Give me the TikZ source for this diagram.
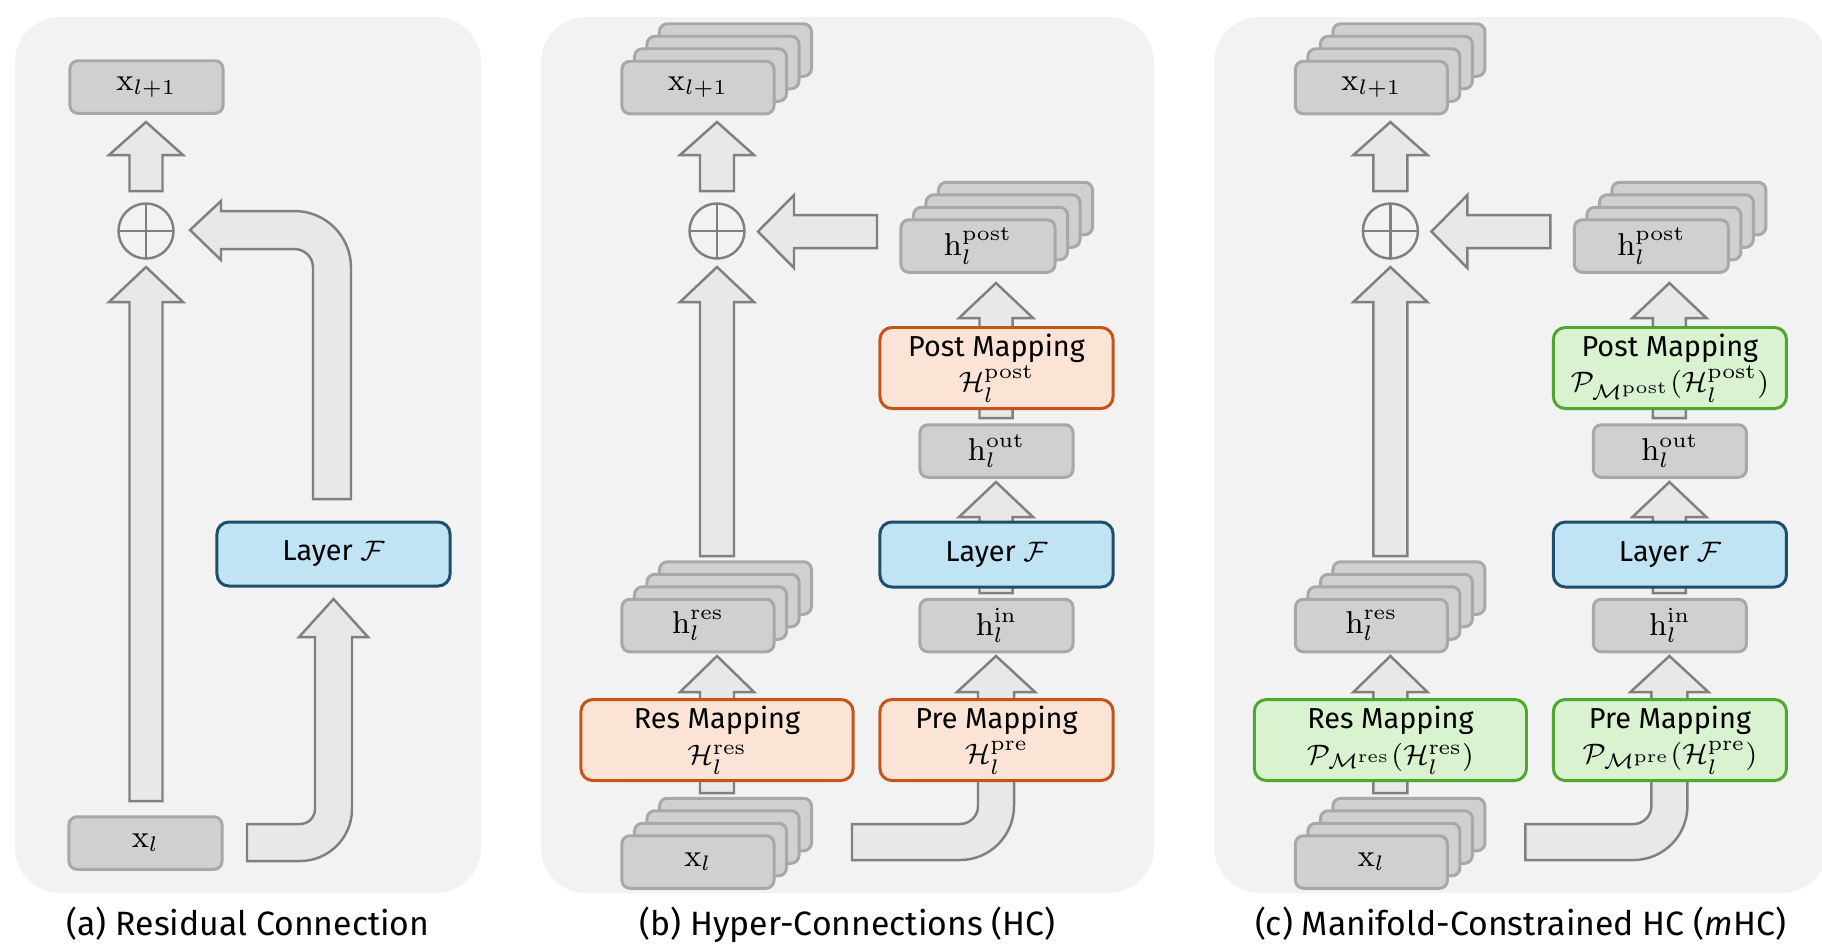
\documentclass[tikz,border=0pt]{standalone}
\usepackage[no-math]{fontspec}
\setmainfont{Fira Sans}
\usetikzlibrary{calc}
\definecolor{bgc}{HTML}{F2F2F2}
\definecolor{boxf}{HTML}{D0D0D0}
\definecolor{boxd}{HTML}{A8A8A8}
\definecolor{arrf}{HTML}{E8E8E8}
\definecolor{arrd}{HTML}{808080}
\definecolor{layf}{HTML}{C1E4F4}
\definecolor{layd}{HTML}{1D4E6B}
\definecolor{orf}{HTML}{FBE3D6}
\definecolor{ord}{HTML}{C65418}
\definecolor{grf}{HTML}{D9F2D0}
\definecolor{grd}{HTML}{4EA72E}
\tikzset{
  graybox/.style={draw=boxd, fill=boxf, line width=0.85pt, rounded corners=0.08cm, inner sep=0pt, minimum height=0.525cm, font=\fontsize{8.6}{10}\selectfont},
  blockarrow/.style={draw=arrd, fill=arrf, line width=0.7pt, line join=miter},
  layerbox/.style={draw=layd, fill=layf, line width=0.85pt, rounded corners=0.12cm, minimum width=2.33cm, minimum height=0.65cm, inner sep=0pt},
  mapbox/.style={line width=0.85pt, rounded corners=0.12cm, minimum height=0.81cm, inner sep=0pt, align=center, font=\fontsize{8.2}{10.2}\selectfont},
  orbox/.style={mapbox, draw=ord, fill=orf},
  grbox/.style={mapbox, draw=grd, fill=grf},
  plusnode/.style={circle, draw=arrd, line width=0.7pt, minimum size=0.55cm, inner sep=0pt,
    path picture={\draw[arrd, line width=0.7pt] (path picture bounding box.north) -- (path picture bounding box.south) (path picture bounding box.west) -- (path picture bounding box.east);}},
  panel/.style={fill=bgc, rounded corners=0.45cm},
  captionnode/.style={anchor=base, font=\fontsize{9.6}{11.5}\selectfont},
}
% vertical block arrow: cx, ybottom, ytip, shaft half width, head half width, head length
\newcommand\vup[6]{\draw[blockarrow] ({#1-#4},#2) -- ({#1-#4},{#3+#6}) -- ({#1-#5},{#3+#6}) -- (#1,#3) -- ({#1+#5},{#3+#6}) -- ({#1+#4},{#3+#6}) -- ({#1+#4},#2) -- cycle;}
% stack of four boxes: name, cx, cy, width, label
\newcommand\boxstack[5]{%
  \foreach \k in {3,2,1}{\node[graybox, minimum width=#4] (#1-\k) at ({#2+12.5*\k},{#3-12.5*\k}) {};}
  \node[graybox, minimum width=#4] (#1) at (#2,#3) {#5};}
% hyper-connection panel: prefix, mapping style, res label, pre label, post label
\newcommand\hcpanel[5]{%
  \fill[panel] (541,17) rectangle (1154,893);
  \vup{717}{191}{122}{17}{37}{33}
  \vup{717}{556}{267}{17}{37}{35}
  \draw[blockarrow] (877,215) -- (794,215) -- (794,195) -- (758,231.5) -- (794,268) -- (794,248) -- (877,248) -- cycle;
  \vup{996}{418}{283}{16.5}{37}{35}
  \vup{996}{593}{482}{16.5}{37}{35}
  \vup{717}{793}{656}{17}{37}{36}
  \draw[blockarrow] (852,824) -- (960,824) .. controls (969.9,824) and (978,815.9) .. (978,806) -- (978,692) -- (957,692) -- (996,656) -- (1035,692) -- (1014,692) -- (1014,806) .. controls (1014,835.8) and (989.8,860) .. (960,860) -- (852,860) -- cycle;
  \boxstack{#1xo}{698}{87.5}{1.52cm}{$\mathrm{x}_{l+1}$}
  \node[plusnode] (#1plus) at (717,231) {};
  \boxstack{#1hpost}{978}{246}{1.54cm}{$\mathrm{h}_l^{\mathrm{post}}$}
  \node[#2, minimum width=2.33cm] (#1post) at (996.5,368) {Post Mapping\\#5};
  \node[graybox, minimum width=1.53cm] (#1hout) at (996.5,451) {$\mathrm{h}_l^{\mathrm{out}}$};
  \node[layerbox] (#1layer) at (996.5,554.5) {Layer $\mathcal{F}$};
  \node[graybox, minimum width=1.53cm] (#1hin) at (996.5,625.5) {$\mathrm{h}_l^{\mathrm{in}}$};
  \node[#2, minimum width=2.33cm] (#1pre) at (996.5,740) {Pre Mapping\\#4};
  \node[#2, minimum width=2.72cm] (#1res) at (717,740) {Res Mapping\\#3};
  \boxstack{#1hres}{698}{625.5}{1.52cm}{$\mathrm{h}_l^{\mathrm{res}}$}
  \boxstack{#1xi}{698}{862}{1.52cm}{$\mathrm{x}_l$}
}
\begin{document}
\begin{tikzpicture}[x=0.01cm, y=-0.01cm, font=\fontsize{8.2}{9.8}\selectfont]
\useasboundingbox (0,0) rectangle (1822,950);
\clip (0,0) rectangle (1822,950);
% ---------- (a) residual connection ----------
\fill[panel] (15,17) rectangle (481,893);
\vup{146}{191}{122}{16.5}{37}{33}
\vup{146}{801}{267}{16.5}{37}{35}
\draw[blockarrow] (313,499) -- (313,267.5) .. controls (313,257.3) and (304.7,249) .. (294.5,249) -- (221,249) -- (221,260) -- (190,230) -- (221,201) -- (221,211) -- (294.5,211) .. controls (325.7,211) and (351,236.3) .. (351,267.5) -- (351,499) -- cycle;
\draw[blockarrow] (247,824) -- (300,824) .. controls (308.3,824) and (315,817.3) .. (315,809) -- (315,637) -- (299,637) -- (333.5,599) -- (368,637) -- (352,637) -- (352,809) .. controls (352,837.7) and (328.7,861) .. (300,861) -- (247,861) -- cycle;
\node[graybox, minimum width=1.53cm] (axo) at (146.5,87) {$\mathrm{x}_{l+1}$};
\node[plusnode] (aplus) at (146,231) {};
\node[layerbox, minimum height=0.64cm] (alayer) at (333.5,554) {Layer $\mathcal{F}$};
\node[graybox, minimum width=1.53cm] (axi) at (145.5,843) {$\mathrm{x}_l$};
\node[captionnode] (acap) at (248,935) {(a) Residual Connection};
% ---------- (b) hyper-connections ----------
\begin{scope}
\hcpanel{b}{orbox}{$\mathcal{H}_l^{\mathrm{res}}$}{$\mathcal{H}_l^{\mathrm{pre}}$}{$\mathcal{H}_l^{\mathrm{post}}$}
\end{scope}
\node[captionnode] (bcap) at (847.5,935) {(b) Hyper-Connections (HC)};
% ---------- (c) manifold-constrained HC ----------
\begin{scope}[xshift=6.73cm]
\hcpanel{c}{grbox}{$\mathcal{P}_{\mathcal{M}^{\mathrm{res}}}(\mathcal{H}_l^{\mathrm{res}})$}{$\mathcal{P}_{\mathcal{M}^{\mathrm{pre}}}(\mathcal{H}_l^{\mathrm{pre}})$}{$\mathcal{P}_{\mathcal{M}^{\mathrm{post}}}(\mathcal{H}_l^{\mathrm{post}})$}
\end{scope}
\node[captionnode] (ccap) at (1520.5,935) {(c) Manifold-Constrained HC (\textit{m}HC)};
\end{tikzpicture}
\end{document}
